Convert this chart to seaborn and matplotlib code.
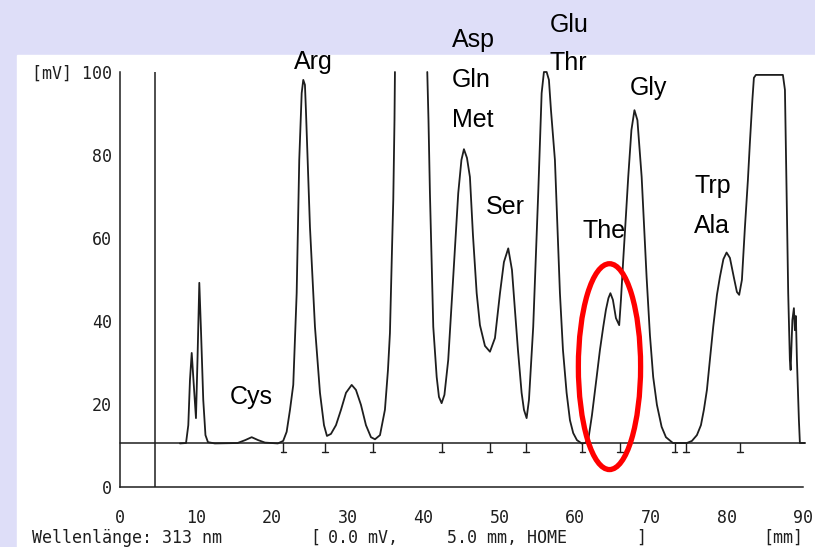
import numpy as np
import pandas as pd
import matplotlib
matplotlib.use("Agg")
import matplotlib.pyplot as plt
from matplotlib.patches import Ellipse, Rectangle
import seaborn as sns

# Chromatogram trace (retention in mm, signal in mV)
# The big peak near 36-40 mm runs off scale, so the trace is split there.
mm_a = [7.9, 8.7, 9.0, 9.22, 9.45, 9.68, 10.01, 10.21, 10.45, 10.67, 10.97, 11.26, 11.59,
        12.5, 15.5, 16.5, 17.35, 18.2, 19.1, 20.8, 21.5, 21.96, 22.4, 22.83, 23.28, 23.62,
        23.94, 24.15, 24.37, 24.5, 25.03, 25.69, 26.35, 26.88, 27.27, 27.8, 28.46, 29.12,
        29.78, 30.53, 31.09, 31.75, 32.41, 33.07, 33.6, 34.26, 34.91, 35.31, 35.57, 35.84,
        36.01, 36.17, 36.23]
mv_a = [10.5, 10.6, 14.9, 25.8, 32.3, 25.8, 16.6, 30.6, 49.2, 37.8, 21.0, 12.5, 10.8,
        10.5, 10.6, 11.3, 12.0, 11.3, 10.7, 10.5, 11.1, 13.3, 18.6, 24.6, 46.7, 78.8,
        94.9, 98.1, 96.9, 90.8, 62.7, 38.6, 22.7, 14.9, 12.3, 12.8, 14.9, 18.6,
        22.7, 24.6, 23.4, 19.8, 14.9, 12.0, 11.5, 12.5, 18.6, 28.2, 37.1, 57.1,
        69.2, 88.4, 100.0]

mm_b = [40.49, 40.65, 40.84, 41.28, 41.73, 42.03, 42.38, 42.75, 43.25, 43.91, 44.57, 44.99,
        45.32, 45.72, 46.11, 46.51, 47.0, 47.43, 48.09, 48.75, 49.41, 50.07, 50.59, 51.16,
        51.65, 52.04, 52.44, 52.92, 53.23, 53.58, 53.89, 54.45, 55.11, 55.56, 55.86, 56.22,
        56.52, 56.79, 57.31, 57.97, 58.37, 58.85, 59.29, 59.72, 60.21, 60.83, 61.26, 61.7,
        62.19, 62.81, 63.24, 63.68, 64.03, 64.36, 64.62, 64.95, 65.35, 65.78, 66.01, 66.31,
        66.67, 66.97, 67.39, 67.79, 68.18, 68.74, 69.39, 69.83, 70.26, 70.75, 71.37, 71.94,
        72.86, 74.7, 75.36, 76.02, 76.55, 76.94, 77.34, 77.73, 78.17, 78.66, 79.05, 79.51,
        79.93, 80.37, 80.9, 81.29, 81.59, 81.95, 82.35, 82.74, 83.0, 83.33, 83.53, 83.79,
        87.35, 87.62, 87.84, 88.05, 88.27, 88.37, 88.6, 88.8, 88.93, 89.06, 89.2, 89.46,
        89.59, 90.25]
mv_b = [100.0, 88.4, 70.8, 38.6, 26.5, 21.7, 20.2, 22.2, 30.6, 50.6, 70.8, 78.8,
        81.4, 79.3, 74.7, 60.7, 46.7, 39.0, 34.0, 32.6, 35.9, 46.7, 54.2, 57.5,
        52.3, 42.7, 33.0, 22.7, 18.6, 16.6, 21.0, 38.6, 70.8, 94.9, 100.0, 100.0,
        98.1, 90.8, 78.8, 46.7, 33.0, 22.7, 16.1, 13.0, 11.3, 10.5, 10.6, 11.3,
        17.3, 26.5, 33.0, 38.6, 42.7, 45.5, 46.7, 45.1, 40.7, 39.0, 45.1, 54.7,
        65.5, 74.7, 86.0, 90.8, 88.4, 74.7, 50.6, 36.6, 26.5, 19.8, 14.5, 12.0,
        10.6, 10.6, 11.1, 12.5, 14.9, 18.6, 23.4, 30.6, 38.6, 46.3, 50.6, 54.9,
        56.5, 55.2, 50.4, 47.0, 46.3, 49.9, 62.7, 74.0, 82.9, 93.3, 98.6, 99.3,
        99.3, 95.7, 70.8, 46.7, 30.6, 28.2, 40.2, 43.1, 37.8, 41.2, 30.6, 16.1,
        10.6, 10.6]

baseline_mv = 10.5
marker_mm = [21.5, 27.0, 33.3, 42.4, 48.7, 53.5, 60.9, 65.9, 73.1, 74.6, 81.7]

# peak labels: text, x (mm), y (mV, text baseline)
labels = ["Arg", "Asp", "Gln", "Met", "Glu", "Thr", "Gly", "Ser", "The", "Trp", "Ala", "Cys"]
label_x = [22.9, 43.7, 43.7, 43.7, 56.6, 56.6, 67.2, 48.2, 61.0, 75.7, 75.6, 14.5]
label_y = [100.7, 106.1, 96.5, 86.8, 109.7, 100.5, 94.5, 65.9, 59.9, 70.8, 61.1, 20.0]

x_ticks = list(range(0, 95, 5))
x_ticklabels = [str(t) if t % 10 == 0 else "" for t in x_ticks]
y_ticks = list(range(0, 110, 10))
y_ticklabels = ["0", "", "20", "", "40", "", "60", "", "80", "", "[mV] 100"]

df = pd.DataFrame({
    "mm": mm_a + mm_b,
    "mv": mv_a + mv_b,
    "seg": [0] * len(mm_a) + [1] * len(mm_b),
})

sns.set_style("white")
ink = "#1e1e1e"
mono = "DejaVu Sans Mono"
sans = "Liberation Sans"

fig = plt.figure(figsize=(8.15, 5.47), dpi=100)
fig.patch.set_facecolor("#dedef8")
# white paper area of the scan
fig.patches.append(Rectangle((17 / 815, 0), 798 / 815, 492 / 547,
                             transform=fig.transFigure, color="white", zorder=-10))

ax = fig.add_axes([120 / 815, 60 / 547, 683 / 815, 415 / 547])
ax.set_facecolor("none")

sns.lineplot(data=df, x="mm", y="mv", units="seg", estimator=None, sort=False,
             color=ink, lw=1.3, ax=ax)
for line in ax.lines:
    line.set_clip_on(False)

# baseline, injection line and integration marks
ax.plot([0, 90.3], [baseline_mv, baseline_mv], color=ink, lw=1.1, clip_on=False)
ax.plot([4.6, 4.6], [0, 100], color=ink, lw=1.1)
for m in marker_mm:
    ax.plot([m, m], [baseline_mv, baseline_mv - 2.1], color=ink, lw=1.0)
    ax.plot([m - 0.35, m + 0.35], [baseline_mv - 2.1, baseline_mv - 2.1], color=ink, lw=1.0)

# red highlight around the "The" peak
ax.add_patch(Ellipse((64.5, 29.0), 8.2, 49.6, fill=False, ec="#ff0000", lw=3.8,
                     clip_on=False, zorder=5))

for t, x, y in zip(labels, label_x, label_y):
    ax.text(x, y, t, fontsize=18, family=sans, color="black",
            ha="left", va="baseline", clip_on=False)

ax.set_xlim(0, 90)
ax.set_ylim(0, 100)
ax.set_xticks(x_ticks)
ax.set_xticklabels(x_ticklabels)
ax.set_yticks(y_ticks)
ax.set_yticklabels(y_ticklabels)
ax.tick_params(axis="x", direction="out", length=4, width=1.0, pad=12, colors=ink, labelsize=12)
ax.tick_params(axis="y", direction="out", length=4, width=1.0, pad=2, colors=ink, labelsize=12)
for lab in ax.get_xticklabels() + ax.get_yticklabels():
    lab.set_family(mono)
ax.set_xlabel("")
ax.set_ylabel("")

sns.despine(ax=ax, top=True, right=True)
for side in ["left", "bottom"]:
    ax.spines[side].set_color(ink)
    ax.spines[side].set_linewidth(1.1)

# printer footer line
fig.text(32 / 815, 1 - 538 / 547, "Wellenl\u00e4nge: 313 nm", family=mono, fontsize=12,
         color=ink, ha="left", va="center")
fig.text(310 / 815, 1 - 538 / 547, "[", family=mono, fontsize=12, color=ink, va="center")
fig.text(328 / 815, 1 - 538 / 547, "0.0 mV,", family=mono, fontsize=12, color=ink, va="center")
fig.text(447 / 815, 1 - 538 / 547, "5.0 mm, HOME", family=mono, fontsize=12, color=ink, va="center")
fig.text(636 / 815, 1 - 538 / 547, "]", family=mono, fontsize=12, color=ink, va="center")
fig.text(763 / 815, 1 - 538 / 547, "[mm]", family=mono, fontsize=12, color=ink, va="center")

fig.savefig("out.png", dpi=100)
